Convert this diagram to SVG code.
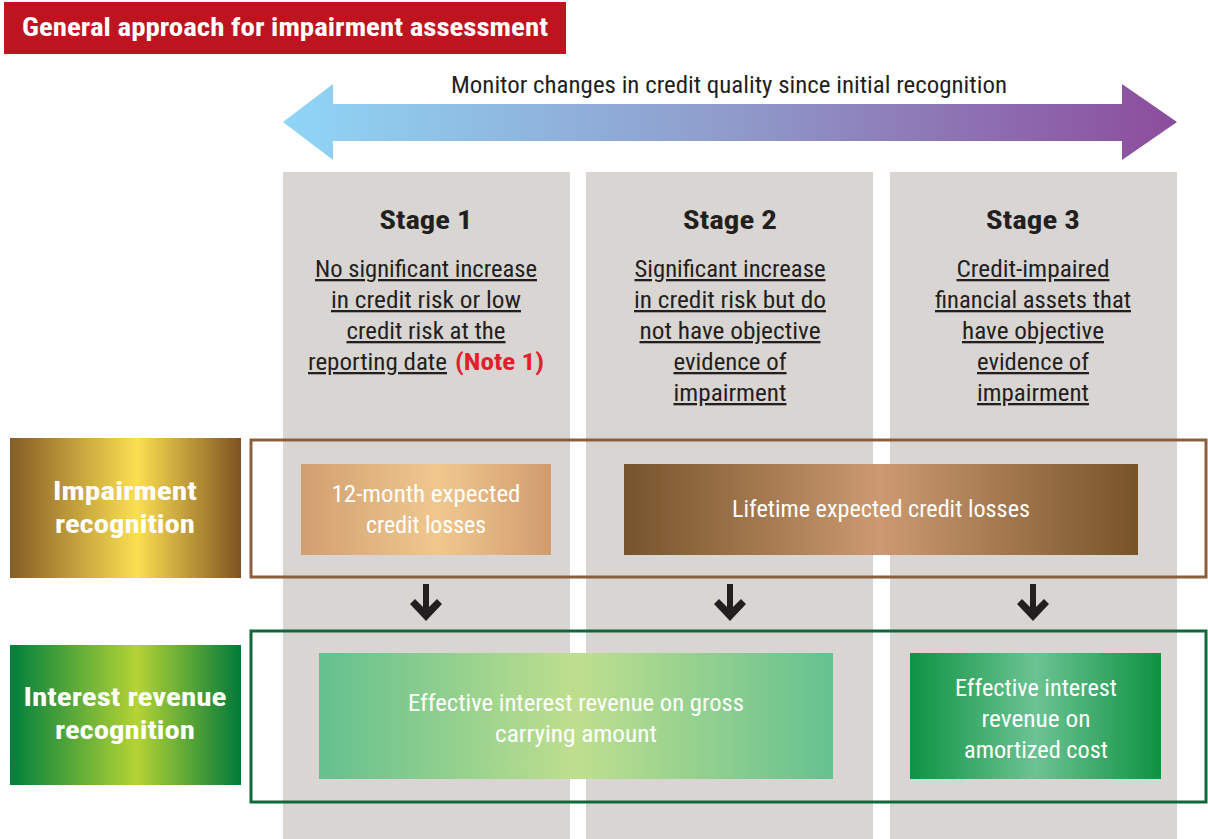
<svg xmlns="http://www.w3.org/2000/svg" width="1208" height="839" viewBox="0 0 1208 839">
<defs>
<linearGradient id="gArrow" x1="0" x2="1" y1="0" y2="0"><stop offset="0" stop-color="#8fd6f6"/><stop offset="0.5" stop-color="#8f9bcb"/><stop offset="1" stop-color="#8c4c9c"/></linearGradient>
<linearGradient id="gGold" x1="0" x2="1"><stop offset="0" stop-color="#855d25"/><stop offset="0.55" stop-color="#fbdf52"/><stop offset="1" stop-color="#7f5322"/></linearGradient>
<linearGradient id="gGreenL" x1="0" x2="1"><stop offset="0" stop-color="#007f3d"/><stop offset="0.55" stop-color="#b5d334"/><stop offset="1" stop-color="#007a3a"/></linearGradient>
<linearGradient id="gTan" x1="0" x2="1"><stop offset="0" stop-color="#d19f70"/><stop offset="0.55" stop-color="#f0c88e"/><stop offset="1" stop-color="#d19c6f"/></linearGradient>
<linearGradient id="gBrown" x1="0" x2="1"><stop offset="0" stop-color="#76532b"/><stop offset="0.5" stop-color="#cc9a70"/><stop offset="1" stop-color="#77532a"/></linearGradient>
<linearGradient id="gLight" x1="0" x2="1"><stop offset="0" stop-color="#63c08f"/><stop offset="0.5" stop-color="#bfdf8e"/><stop offset="1" stop-color="#65c190"/></linearGradient>
<linearGradient id="gDark" x1="0" x2="1"><stop offset="0" stop-color="#0e9343"/><stop offset="0.5" stop-color="#6cc393"/><stop offset="1" stop-color="#0e9242"/></linearGradient>
<style>
text{font-family:"Liberation Sans Narrow","Roboto Condensed","Liberation Sans",Arial,sans-serif;}
.w{fill:#ffffff;}
.wb{fill:#ffffff;font-weight:bold;}
.d{fill:#231f20;font-size:23px;text-decoration:underline;}
.h{fill:#231f20;font-size:26px;font-weight:bold;}
.col{fill:#d9d5d2;}
</style>
</defs>
<rect x="0" y="0" width="1208" height="839" fill="#ffffff"/>
<g id="title">
<rect x="4" y="2" width="562" height="52" fill="#be1420"/>
<text x="285" y="36" class="wb" font-size="25" text-anchor="middle" textLength="526" lengthAdjust="spacingAndGlyphs">General approach for impairment assessment</text>
</g>
<g id="monitor">
<polygon points="283,122 333,84 333,104 1122,104 1122,84 1177,122 1122,160 1122,141 333,141 333,160" fill="url(#gArrow)"/>
<text x="729" y="93" fill="#231f20" font-size="23" text-anchor="middle" textLength="556" lengthAdjust="spacingAndGlyphs">Monitor changes in credit quality since initial recognition</text>
</g>
<g id="columns">
<rect class="col" x="283" y="172" width="287" height="667"/>
<rect class="col" x="586" y="172" width="287" height="667"/>
<rect class="col" x="890" y="172" width="287" height="667"/>
</g>
<g id="stage1">
<text x="426" y="229" class="h" text-anchor="middle" textLength="93" lengthAdjust="spacingAndGlyphs">Stage 1</text>
<text x="426" y="277" class="d" text-anchor="middle" textLength="222" lengthAdjust="spacingAndGlyphs">No significant increase</text>
<text x="426" y="308" class="d" text-anchor="middle" textLength="190" lengthAdjust="spacingAndGlyphs">in credit risk or low</text>
<text x="426" y="339" class="d" text-anchor="middle" textLength="159" lengthAdjust="spacingAndGlyphs">credit risk at the</text>
<text x="308" y="370" class="d" textLength="139" lengthAdjust="spacingAndGlyphs">reporting date</text>
<text x="455" y="370" fill="#e31e2d" font-size="23" font-weight="bold" textLength="89" lengthAdjust="spacingAndGlyphs">(Note 1)</text>
</g>
<g id="stage2">
<text x="730" y="229" class="h" text-anchor="middle" textLength="94" lengthAdjust="spacingAndGlyphs">Stage 2</text>
<text x="730" y="277" class="d" text-anchor="middle" textLength="191" lengthAdjust="spacingAndGlyphs">Significant increase</text>
<text x="730" y="308" class="d" text-anchor="middle" textLength="192" lengthAdjust="spacingAndGlyphs">in credit risk but do</text>
<text x="730" y="339" class="d" text-anchor="middle" textLength="181" lengthAdjust="spacingAndGlyphs">not have objective</text>
<text x="730" y="370" class="d" text-anchor="middle" textLength="113" lengthAdjust="spacingAndGlyphs">evidence of</text>
<text x="730" y="401" class="d" text-anchor="middle" textLength="113" lengthAdjust="spacingAndGlyphs">impairment</text>
</g>
<g id="stage3">
<text x="1033" y="229" class="h" text-anchor="middle" textLength="94" lengthAdjust="spacingAndGlyphs">Stage 3</text>
<text x="1033" y="277" class="d" text-anchor="middle" textLength="153" lengthAdjust="spacingAndGlyphs">Credit-impaired</text>
<text x="1033" y="308" class="d" text-anchor="middle" textLength="196" lengthAdjust="spacingAndGlyphs">financial assets that</text>
<text x="1033" y="339" class="d" text-anchor="middle" textLength="142" lengthAdjust="spacingAndGlyphs">have objective</text>
<text x="1033" y="370" class="d" text-anchor="middle" textLength="112" lengthAdjust="spacingAndGlyphs">evidence of</text>
<text x="1033" y="401" class="d" text-anchor="middle" textLength="112" lengthAdjust="spacingAndGlyphs">impairment</text>
</g>
<g id="impairment-label">
<rect x="10" y="438" width="231" height="140" fill="url(#gGold)"/>
<text x="125" y="500" class="wb" font-size="26" text-anchor="middle" textLength="144" lengthAdjust="spacingAndGlyphs">Impairment</text>
<text x="125" y="533" class="wb" font-size="26" text-anchor="middle" textLength="140" lengthAdjust="spacingAndGlyphs">recognition</text>
</g>
<g id="impairment-frame">
<rect x="251" y="440" width="955" height="137" fill="none" stroke="#8c5f3c" stroke-width="3"/>
</g>
<g id="ecl12">
<rect x="301" y="464" width="250" height="91" fill="url(#gTan)"/>
<text x="426" y="502" class="w" font-size="23" text-anchor="middle" textLength="189" lengthAdjust="spacingAndGlyphs">12-month expected</text>
<text x="426" y="533" class="w" font-size="23" text-anchor="middle" textLength="120" lengthAdjust="spacingAndGlyphs">credit losses</text>
</g>
<g id="ecl-lifetime">
<rect x="624" y="464" width="514" height="91" fill="url(#gBrown)"/>
<text x="881" y="517" class="w" font-size="23" text-anchor="middle" textLength="298" lengthAdjust="spacingAndGlyphs">Lifetime expected credit losses</text>
</g>
<g id="connectors" fill="#231f20">
<path d="M423,584 H429 V607 L437,599 L442,604 L426,621 L410,604 L415,599 L423,607 Z"/>
<path d="M727,584 H733 V607 L741,599 L746,604 L730,621 L714,604 L719,599 L727,607 Z"/>
<path d="M1030,584 H1036 V607 L1044,599 L1049,604 L1033,621 L1017,604 L1022,599 L1030,607 Z"/>
</g>
<g id="interest-label">
<rect x="10" y="645" width="231" height="140" fill="url(#gGreenL)"/>
<text x="125" y="706" class="wb" font-size="26" text-anchor="middle" textLength="203" lengthAdjust="spacingAndGlyphs">Interest revenue</text>
<text x="125" y="739" class="wb" font-size="26" text-anchor="middle" textLength="140" lengthAdjust="spacingAndGlyphs">recognition</text>
</g>
<g id="interest-frame">
<rect x="251" y="631" width="955" height="171" fill="none" stroke="#106838" stroke-width="3"/>
</g>
<g id="eir-gross">
<rect x="319" y="653" width="514" height="126" fill="url(#gLight)"/>
<text x="576" y="711" class="w" font-size="23" text-anchor="middle" textLength="336" lengthAdjust="spacingAndGlyphs">Effective interest revenue on gross</text>
<text x="576" y="742" class="w" font-size="23" text-anchor="middle" textLength="162" lengthAdjust="spacingAndGlyphs">carrying amount</text>
</g>
<g id="eir-amortized">
<rect x="910" y="653" width="251" height="126" fill="url(#gDark)"/>
<text x="1036" y="696" class="w" font-size="23" text-anchor="middle" textLength="162" lengthAdjust="spacingAndGlyphs">Effective interest</text>
<text x="1036" y="727" class="w" font-size="23" text-anchor="middle" textLength="109" lengthAdjust="spacingAndGlyphs">revenue on</text>
<text x="1036" y="758" class="w" font-size="23" text-anchor="middle" textLength="144" lengthAdjust="spacingAndGlyphs">amortized cost</text>
</g>
</svg>
